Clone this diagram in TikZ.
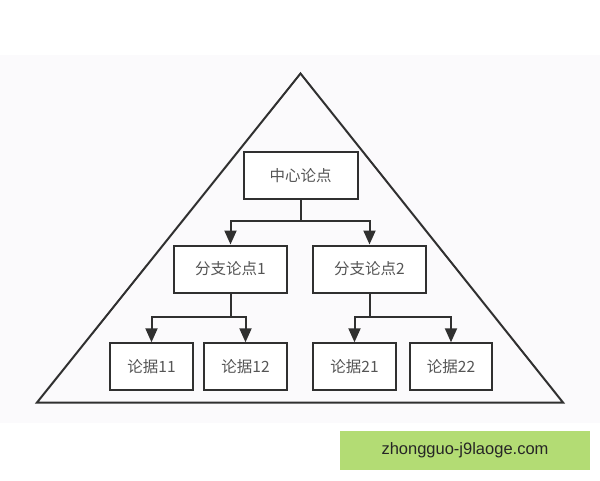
\documentclass[tikz,border=0pt]{standalone}
\usepackage{fontspec}
\newfontfamily\cjk{Noto Sans CJK SC}
\setmainfont{Liberation Sans}
\usetikzlibrary{arrows.meta}
\definecolor{linec}{HTML}{303030}
\definecolor{textc}{HTML}{555555}
\definecolor{bgc}{HTML}{FBFAFC}
\definecolor{greenc}{HTML}{B3DC74}
\tikzset{
  box/.style={draw=linec, line width=2pt, fill=white, minimum width=#1, minimum height=47pt, inner sep=0pt, font=\cjk\fontsize{15.5}{15.5}\selectfont, text=textc},
  conn/.style={draw=linec, line width=2pt},
  arr/.style={conn, -{Triangle[length=14pt,width=12pt]}},
}
\begin{document}
\begin{tikzpicture}[x=1pt,y=-1pt]
\useasboundingbox (0,0) rectangle (600,480);
\fill[white] (0,0) rectangle (600,480);
\fill[bgc] (0,55) rectangle (600,423);
% triangle
\draw[draw=linec, line width=2pt, line join=miter] (300.5,73.5) -- (563,402.5) -- (37,402.5) -- cycle;
% nodes
\node[box=114pt] (c) at (300.5,175.5) {中心论点};
\node[box=113.5pt] (b1) at (230.5,269) {分支论点1};
\node[box=113.5pt] (b2) at (369.5,269) {分支论点2};
\node[box=82.5pt] (l11) at (151.5,366.8) {论据11};
\node[box=82.5pt] (l12) at (245.5,366.8) {论据12};
\node[box=82.5pt] (l21) at (354.5,366.8) {论据21};
\node[box=82.5pt] (l22) at (451,366.8) {论据22};
% connectors
\coordinate (j0) at (c.south |- 0,221);
\coordinate (j1) at (b1.south |- 0,316.5);
\coordinate (j2) at (b2.south |- 0,316.5);
\draw[conn] (c.south) -- (j0);
\draw[arr] (j0) -| (b1.north);
\draw[arr] (j0) -| (b2.north);
\draw[conn] (b1.south) -- (j1);
\draw[arr] (j1) -| (l11.north);
\draw[arr] (j1) -| (l12.north);
\draw[conn] (b2.south) -- (j2);
\draw[arr] (j2) -| (l21.north);
\draw[arr] (j2) -| (l22.north);
% watermark
\node[fill=greenc, minimum width=250pt, minimum height=39.5pt, inner sep=0pt, text=black!85, font=\fontsize{16.5}{16.5}\selectfont] (wm) at (465,450.5) {zhongguo-j9laoge.com};
\end{tikzpicture}
\end{document}
